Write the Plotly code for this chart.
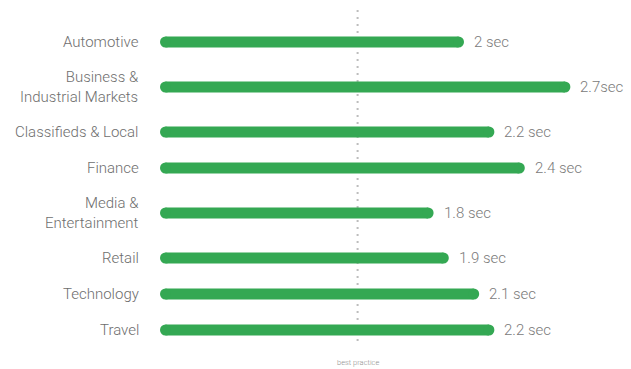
import plotly.graph_objects as go

# Time to first byte by industry (seconds)
categories = [
    "Automotive",
    "Business &<br>Industrial Markets",
    "Classifieds & Local",
    "Finance",
    "Media &<br>Entertainment",
    "Retail",
    "Technology",
    "Travel",
]
values = [2.0, 2.7, 2.2, 2.4, 1.8, 1.9, 2.1, 2.2]
value_labels = ["2 sec", "2.7sec", "2.2 sec", "2.4 sec", "1.8 sec", "1.9 sec", "2.1 sec", "2.2 sec"]
best_practice = 1.3
best_practice_label = "best practice"

GREEN = "#34A853"
FONT = "Roboto Light, Roboto, sans-serif"
W, H = 631, 369
LEFT = 160          # left edge of the plotting area (px)
PX_PER_SEC = 152    # horizontal scale
BAR_W = 11          # bar thickness (px)
CAP = (BAR_W / 2) / PX_PER_SEC   # cap radius in data units

# Row positions: two-line labels get a little extra breathing room
lines = [c.count("<br>") + 1 for c in categories]
rows = [42.0]
for i in range(1, len(categories)):
    gap = 36 + (9 if (lines[i] > 1 or lines[i - 1] > 1) else 0)
    rows.append(rows[-1] + gap)

fig = go.Figure()

for cat, v, lab, y in zip(categories, values, value_labels, rows):
    # Rounded bar spanning [0, v]: thick line with circular caps
    fig.add_trace(go.Scatter(
        x=[CAP, v - CAP], y=[y, y],
        mode="lines+markers",
        line=dict(color=GREEN, width=BAR_W),
        marker=dict(color=GREEN, size=BAR_W, line=dict(width=0)),
        hoverinfo="skip", showlegend=False,
    ))
    fig.add_annotation(
        x=v, y=y, text=lab, showarrow=False,
        xanchor="left", yanchor="middle", xshift=8,
        font=dict(family=FONT, size=15, color="#7a7a7a", weight=300),
    )
    fig.add_annotation(
        xref="paper", x=0, y=y, text=cat, showarrow=False,
        xanchor="right", yanchor="middle", align="right", xshift=-19,
        font=dict(family=FONT, size=15, color="#6e6e6e", weight=300),
    )

# Best-practice reference line
fig.add_shape(
    type="line", x0=best_practice, x1=best_practice, y0=10, y1=346,
    line=dict(color="#bdbdbd", width=2, dash="2px,5px"), layer="below",
)
fig.add_annotation(
    x=best_practice, y=362, text=best_practice_label, showarrow=False,
    xanchor="center", yanchor="middle",
    font=dict(family=FONT, size=7.5, color="#8f8f8f"),
)

fig.update_layout(
    width=W, height=H,
    margin=dict(l=LEFT, r=0, t=0, b=0),
    paper_bgcolor="white", plot_bgcolor="white",
    xaxis=dict(range=[0, (W - LEFT) / PX_PER_SEC], visible=False, fixedrange=True),
    yaxis=dict(range=[H, 0], visible=False, fixedrange=True),
    hovermode=False,
)

fig.write_html("out.html")
